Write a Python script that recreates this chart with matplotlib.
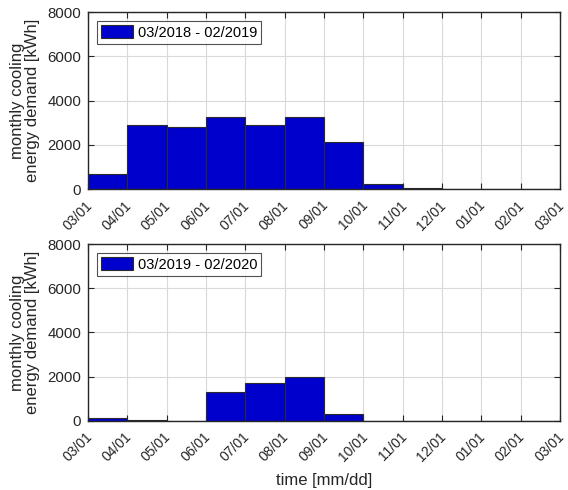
import matplotlib
matplotlib.use("Agg")
import matplotlib.pyplot as plt
import matplotlib.transforms as mtransforms
import numpy as np

plt.rcParams['font.family'] = ['Liberation Sans', 'DejaVu Sans']

month_labels = ["03/01", "04/01", "05/01", "06/01", "07/01", "08/01", "09/01",
                "10/01", "11/01", "12/01", "01/01", "02/01", "03/01"]
demand_2018 = [680, 2900, 2790, 3270, 2880, 3270, 2110, 240, 60, 10, 5, 5]
demand_2019 = [150, 30, 0, 1285, 1720, 1980, 300, 0, 0, 0, 0, 0]
legend_labels = ["03/2018 - 02/2019", "03/2019 - 02/2020"]
yticks = [0, 2000, 4000, 6000, 8000]

bar_color = "#0000CC"
edge_color = "#2b2b2b"
txt_color = "#262626"

fig = plt.figure(figsize=(5.68, 4.9), dpi=100)
ax_top = fig.add_axes([0.155, 0.614, 0.831, 0.361])
ax_bot = fig.add_axes([0.155, 0.141, 0.831, 0.361])

# rotated month labels, anchored at their right-middle point just below each tick
label_offset = mtransforms.ScaledTranslation(2 / 100, -14 / 100, fig.dpi_scale_trans)

for ax, vals, lab in [(ax_top, demand_2018, legend_labels[0]),
                      (ax_bot, demand_2019, legend_labels[1])]:
    x = np.arange(len(vals))
    ax.bar(x, vals, width=1.0, align="edge", color=bar_color,
           edgecolor=edge_color, linewidth=0.8, label=lab, zorder=3)
    ax.set_xlim(0, len(month_labels) - 1)
    ax.set_ylim(0, 8000)
    ax.set_yticks(yticks)
    ticks = np.arange(len(month_labels))
    ax.set_xticks(ticks)
    ax.set_xticklabels([])
    tr = ax.get_xaxis_transform() + label_offset
    for xt, txt in zip(ticks, month_labels):
        ax.text(xt, 0, txt, transform=tr, rotation=45, rotation_mode="anchor",
                ha="right", va="center", fontsize=10, color=txt_color,
                clip_on=False)
    ax.tick_params(axis="y", labelsize=10.8, labelcolor=txt_color, pad=5)
    ax.tick_params(direction="in", top=True, right=True, length=4,
                   width=0.8, color=txt_color)
    ax.grid(True, color="#d9d9d9", linewidth=0.8, zorder=0)
    ax.set_axisbelow(True)
    for sp in ax.spines.values():
        sp.set_color(txt_color)
        sp.set_linewidth(1.0)
        sp.set_zorder(4)
    ax.set_ylabel("monthly cooling\nenergy demand [kWh]", fontsize=12,
                  color=txt_color, linespacing=1.0, labelpad=5)
    leg = ax.legend(loc="upper left", fontsize=10.5, frameon=True, fancybox=False,
                    handlelength=2.2, handleheight=1.0, borderpad=0.3,
                    handletextpad=0.3, borderaxespad=0.6)
    leg.get_frame().set_edgecolor(txt_color)
    leg.get_frame().set_linewidth(0.8)

# x-axis title below the rotated month labels
ax_bot.set_xlabel("time [mm/dd]", fontsize=12, color=txt_color)
ax_bot.xaxis.set_label_coords(0.5, -0.335)
ax_bot.xaxis.label.set_va("center")

fig.savefig("out.png", dpi=100)
